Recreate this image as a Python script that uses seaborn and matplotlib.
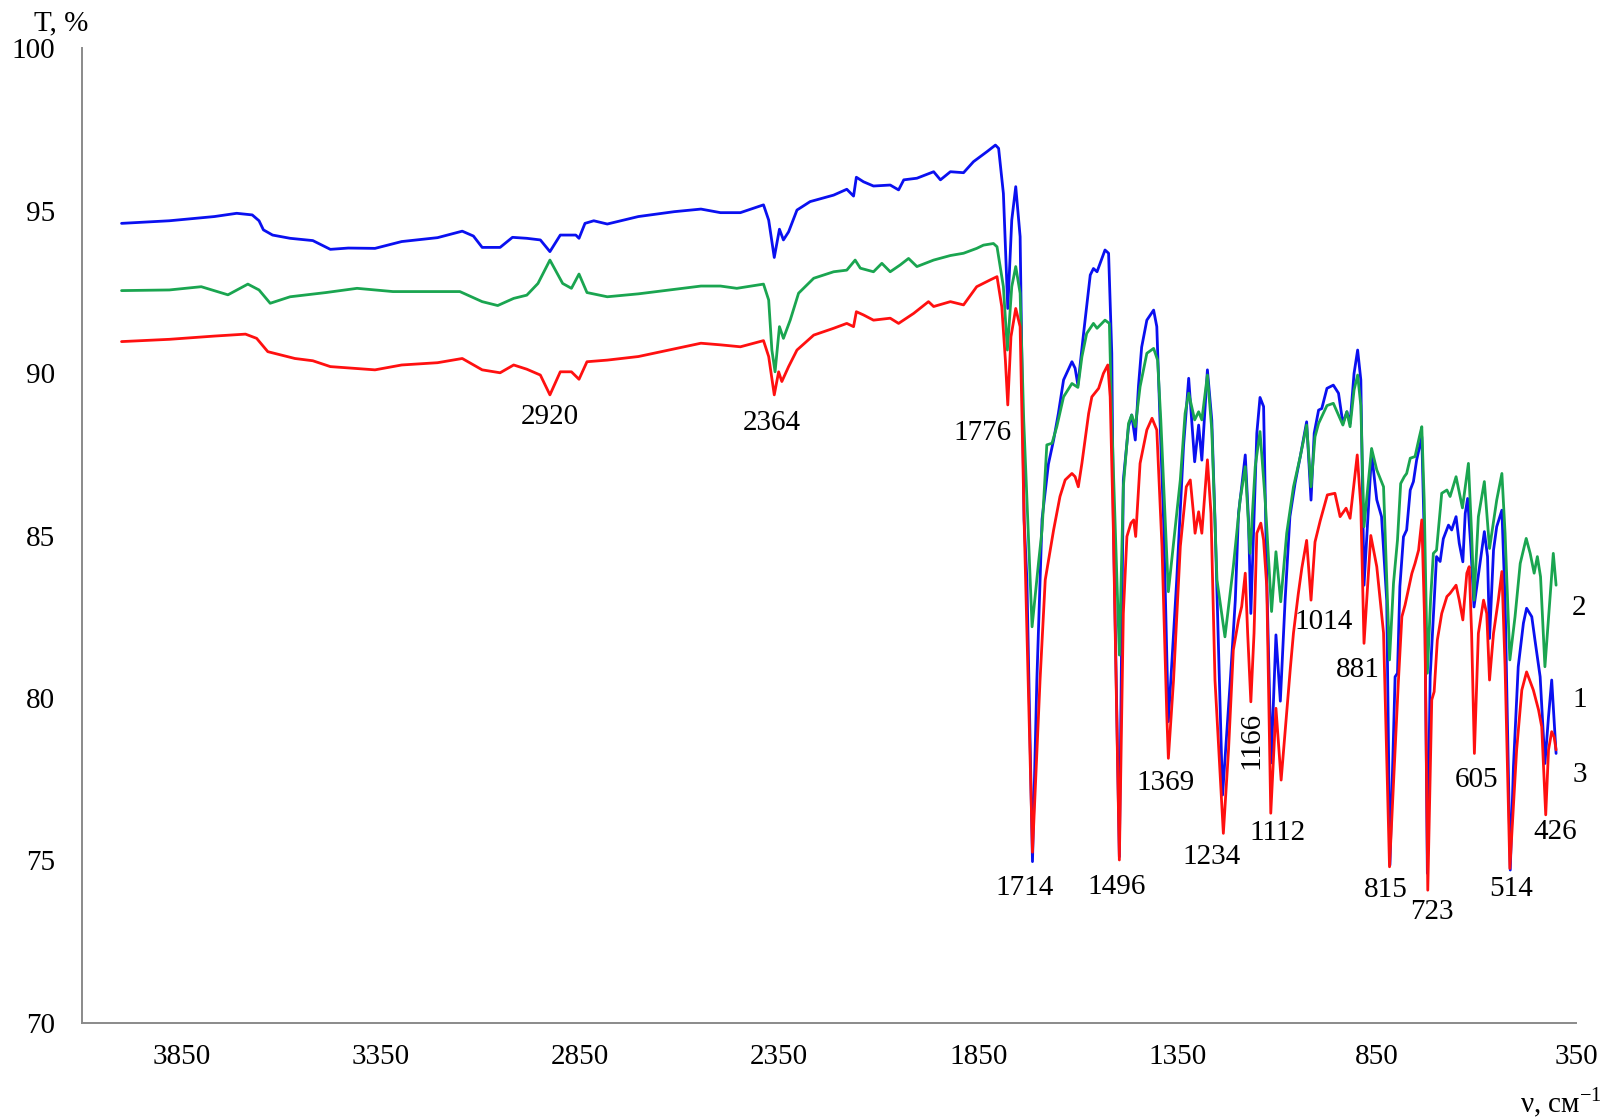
import numpy as np
import pandas as pd
import matplotlib
matplotlib.use("Agg")
import matplotlib.pyplot as plt
import seaborn as sns

# ---------------- data (wavenumber, transmittance %) ----------------
wn_1 = [4000, 3880, 3767, 3711, 3672, 3655, 3644, 3621, 3577, 3520, 3476, 3431, 3364, 3297,
        3207, 3145, 3117, 3095, 3050, 3019, 2983, 2949, 2925, 2899, 2860, 2852, 2837, 2815,
        2781, 2703, 2613, 2546, 2497, 2447, 2389, 2376, 2362, 2349, 2339, 2326, 2305, 2272,
        2213, 2180, 2163, 2156, 2138, 2113, 2071, 2050, 2037, 2004, 1962, 1945, 1920, 1887,
        1862, 1828, 1807, 1799, 1787, 1776, 1766, 1756, 1745, 1735, 1728, 1714, 1703, 1690,
        1674, 1661, 1649, 1636, 1615, 1607, 1600, 1594, 1586, 1569, 1561, 1552, 1532, 1523,
        1515, 1511, 1496, 1486, 1473, 1465, 1456, 1448, 1440, 1427, 1410, 1402, 1394, 1385,
        1373, 1352, 1335, 1322, 1307, 1297, 1289, 1275, 1264, 1256, 1237, 1218, 1205, 1197,
        1189, 1180, 1172, 1166, 1151, 1143, 1134, 1126, 1115, 1103, 1092, 1080, 1068, 1055,
        1042, 1026, 1015, 1007, 996, 988, 975, 959, 946, 935, 925, 917, 907, 898, 890, 882,
        863, 850, 838, 825, 817, 804, 798, 792, 783, 775, 766, 758, 750, 737, 731, 723, 716,
        710, 700, 691, 683, 670, 662, 651, 643, 634, 628, 622, 614, 606, 591, 580, 572, 567,
        557, 549, 536, 528, 515, 507, 495, 482, 474, 461, 453, 440, 428, 419, 411, 400]
t_1 = [94.61, 94.69, 94.82, 94.92, 94.87, 94.69, 94.41, 94.25, 94.15, 94.08, 93.81, 93.85, 93.84, 94.05,
       94.17, 94.37, 94.22, 93.87, 93.87, 94.18, 94.15, 94.10, 93.74, 94.25, 94.25, 94.15, 94.61, 94.69,
       94.59, 94.82, 94.97, 95.05, 94.94, 94.94, 95.18, 94.71, 93.56, 94.43, 94.10, 94.35, 95.02, 95.28,
       95.48, 95.66, 95.45, 96.03, 95.89, 95.76, 95.79, 95.64, 95.95, 96.00, 96.20, 95.95, 96.20, 96.17,
       96.51, 96.82, 97.02, 96.92, 95.53, 91.99, 94.71, 95.74, 94.20, 85.48, 83.63, 74.96, 80.55, 85.50,
       87.20, 87.94, 88.76, 89.79, 90.35, 90.15, 89.63, 90.30, 91.20, 93.02, 93.22, 93.12, 93.79, 93.69,
       90.61, 85.48, 75.11, 86.71, 88.35, 88.71, 87.94, 89.60, 90.80, 91.63, 91.94, 91.43, 88.55, 85.48,
       79.27, 83.63, 87.74, 89.84, 87.27, 88.40, 87.32, 90.10, 88.55, 85.48, 77.01, 80.45, 83.01, 85.68,
       86.50, 87.48, 85.50, 82.60, 88.15, 89.25, 88.97, 83.63, 78.00, 81.94, 79.90, 83.01, 85.58, 86.61,
       87.43, 88.50, 86.09, 88.15, 88.86, 88.91, 89.53, 89.63, 89.38, 88.45, 88.81, 88.45, 89.99, 90.71, 89.79, 83.47,
       87.53, 86.10, 85.58, 83.00, 74.85, 80.65, 80.76, 83.43, 84.96, 85.17, 86.40, 86.66, 87.32, 88.04, 85.07, 74.60, 80.65,
       82.00, 84.35, 84.20, 84.90, 85.32, 85.17, 85.58, 84.76, 84.19, 85.68, 86.14, 84.66, 82.80, 84.14, 85.12, 84.35, 81.83,
       84.55, 85.27, 85.78, 83.01, 74.70, 77.88, 80.96, 82.30, 82.76, 82.50, 81.78, 80.65, 77.98, 79.42, 80.55, 78.29]

wn_2 = [4000, 3880, 3800, 3733, 3683, 3655, 3627, 3577, 3487, 3409, 3319, 3151, 3095, 3056,
        3016, 2983, 2955, 2925, 2893, 2871, 2852, 2832, 2781, 2703, 2546, 2497, 2456, 2389,
        2376, 2368, 2360, 2349, 2339, 2322, 2301, 2263, 2213, 2180, 2159, 2146, 2113, 2092,
        2071, 2046, 2025, 2004, 1962, 1920, 1887, 1854, 1837, 1812, 1803, 1787, 1777, 1766,
        1756, 1745, 1736, 1715, 1699, 1690, 1678, 1665, 1653, 1636, 1615, 1600, 1590, 1578,
        1561, 1552, 1532, 1521, 1515, 1496, 1486, 1473, 1465, 1456, 1444, 1427, 1410, 1400,
        1392, 1373, 1343, 1331, 1322, 1307, 1297, 1289, 1275, 1264, 1251, 1231, 1210, 1193,
        1180, 1168, 1155, 1143, 1130, 1114, 1103, 1091, 1076, 1059, 1042, 1026, 1015, 1005,
        996, 975, 959, 935, 925, 917, 907, 898, 890, 882, 863, 850, 833, 818, 808, 798, 790,
        781, 775, 766, 754, 743, 737, 731, 723, 715, 708, 700, 687, 674, 666, 651, 635, 620,
        612, 606, 595, 580, 567, 549, 536, 528, 516, 503, 490, 475, 465, 455, 447, 439, 428,
        407, 400]
t_2 = [92.54, 92.56, 92.66, 92.41, 92.74, 92.56, 92.15, 92.35, 92.48, 92.61, 92.51, 92.51, 92.20, 92.08,
       92.30, 92.40, 92.76, 93.48, 92.76, 92.61, 93.05, 92.48, 92.35, 92.44, 92.68, 92.68, 92.61, 92.74,
       92.25, 90.71, 90.04, 91.43, 91.07, 91.63, 92.46, 92.92, 93.12, 93.17, 93.48, 93.23, 93.12, 93.38,
       93.12, 93.33, 93.53, 93.28, 93.48, 93.62, 93.69, 93.84, 93.94, 93.99, 93.89, 92.66, 90.71, 92.66,
       93.28, 92.46, 88.56, 82.19, 84.14, 85.17, 87.79, 87.84, 88.35, 89.27, 89.68, 89.56, 90.50, 91.22,
       91.53, 91.38, 91.63, 91.53, 88.56, 81.32, 86.50, 88.45, 88.71, 88.35, 89.58, 90.61, 90.76, 90.40,
       88.56, 83.27, 86.71, 88.76, 89.38, 88.56, 88.81, 88.56, 89.94, 88.25, 83.63, 81.88, 84.04, 86.09,
       87.12, 84.45, 87.12, 88.20, 86.09, 82.66, 84.50, 82.96, 85.07, 86.50, 87.43, 88.40, 86.50, 88.04,
       88.45, 89.00, 89.07, 88.40, 88.81, 88.35, 89.48, 89.94, 89.00, 85.27, 87.68, 87.02, 86.50, 81.17, 83.53, 84.86, 86.60,
       86.81, 86.91, 87.38, 87.43, 88.04, 88.35, 86.09, 80.76, 83.01, 84.45, 84.55, 86.30, 86.40, 86.20, 86.81, 85.85, 87.22,
       85.07, 83.01, 85.58, 86.66, 84.60, 86.09, 86.91, 85.07, 81.17, 82.50, 84.14, 84.91, 84.45, 83.84, 84.35, 83.73, 80.96,
       84.45, 83.47]

wn_3 = [4000, 3880, 3767, 3689, 3661, 3633, 3565, 3520, 3476, 3364, 3297, 3207, 3145, 3095,
        3050, 3016, 2983, 2949, 2925, 2899, 2871, 2852, 2832, 2781, 2703, 2546, 2497, 2447,
        2389, 2376, 2362, 2351, 2343, 2326, 2305, 2263, 2213, 2180, 2163, 2156, 2138, 2113,
        2071, 2050, 2012, 1975, 1962, 1920, 1887, 1854, 1820, 1803, 1791, 1782, 1776, 1768,
        1756, 1745, 1735, 1714, 1695, 1682, 1661, 1645, 1632, 1615, 1607, 1599, 1590, 1573,
        1565, 1548, 1536, 1525, 1519, 1511, 1496, 1486, 1477, 1467, 1460, 1455, 1444, 1427,
        1414, 1402, 1389, 1377, 1373, 1360, 1343, 1328, 1318, 1310, 1306, 1297, 1289, 1275,
        1266, 1256, 1235, 1222, 1210, 1197, 1189, 1180, 1174, 1166, 1158, 1151, 1141, 1134,
        1126, 1116, 1103, 1090, 1067, 1059, 1047, 1038, 1026, 1015, 1005, 992, 974, 955, 942,
        927, 917, 899, 890, 882, 865, 850, 833, 818, 804, 796, 787, 779, 771, 762, 754, 745,
        737, 729, 722, 712, 706, 698, 687, 674, 666, 651, 643, 634, 624, 618, 612, 605, 595,
        582, 574, 567, 557, 545, 536, 528, 516, 499, 486, 474, 457, 444, 436, 426, 419, 411,
        405, 400]
t_3 = [90.97, 91.04, 91.14, 91.20, 91.07, 90.66, 90.45, 90.38, 90.20, 90.10, 90.25, 90.32, 90.45, 90.10,
       90.01, 90.25, 90.12, 89.94, 89.33, 90.04, 90.04, 89.81, 90.35, 90.40, 90.51, 90.92, 90.87, 90.81,
       91.00, 90.51, 89.33, 90.04, 89.74, 90.20, 90.71, 91.17, 91.38, 91.53, 91.43, 91.89, 91.79, 91.63,
       91.69, 91.53, 91.84, 92.20, 92.05, 92.20, 92.10, 92.66, 92.87, 92.97, 92.04, 90.40, 89.02, 91.12,
       91.99, 91.43, 85.48, 75.25, 80.55, 83.63, 85.17, 86.20, 86.71, 86.91, 86.81, 86.50, 87.22, 88.76,
       89.27, 89.53, 89.99, 90.25, 89.27, 85.17, 75.01, 82.60, 84.97, 85.38, 85.48, 84.97, 87.22, 88.25,
       88.61, 88.25, 84.66, 79.50, 78.14, 80.55, 84.66, 86.50, 86.71, 85.68, 85.07, 85.73, 85.07, 87.33,
       85.68, 80.55, 75.83, 78.40, 81.47, 82.40, 82.81, 83.84, 81.99, 79.88, 81.99, 85.07, 85.38, 84.86,
       83.42, 76.45, 79.68, 77.47, 80.90, 82.00, 83.20, 84.00, 84.85, 83.01, 84.80, 85.45, 86.25, 86.30, 85.58,
       85.84, 85.53, 87.48, 85.90, 81.68, 85.00, 84.04, 82.00, 74.80, 78.40, 80.45, 82.50, 82.86, 83.32, 83.83, 84.14, 84.55,
       85.48, 81.99, 74.08, 79.94, 80.19, 81.78, 82.60, 83.12, 83.22, 83.47, 83.01, 82.40, 83.84, 84.04, 81.99, 78.29, 81.99,
       83.01, 82.60, 80.55, 81.99, 83.01, 83.89, 80.96, 74.75, 78.40, 80.24, 80.80, 80.24, 79.63, 79.11, 76.40, 78.40, 78.96,
       78.80, 78.40]

peak_labels = ["2920", "2364", "1776", "1714", "1496", "1369", "1234", "1166", "1112",
               "1014", "881", "815", "723", "605", "514", "426"]
peak_label_x = [2925, 2368, 1839, 1734, 1504, 1381, 1264, 1164, 1099, 984, 898, 827, 712, 599, 514, 403]
peak_label_y = [88.66, 88.45, 88.17, 74.14, 74.19, 77.37, 75.11, 78.70, 75.83, 82.33, 80.86, 74.08, 73.40, 77.47, 74.12, 75.87]

series_names = ["1", "2", "3"]
series_label_x = [341.7, 341.7, 341.7]
series_label_y = [79.93, 82.76, 77.63]

x_ticks = [3850, 3350, 2850, 2350, 1850, 1350, 850, 350]
y_ticks = [70, 75, 80, 85, 90, 95, 100]

# ---------------- style ----------------
sns.set_theme(style="white")
plt.rcParams["font.family"] = ["Liberation Serif", "DejaVu Serif"]
plt.rcParams["mathtext.fontset"] = "custom"
plt.rcParams["mathtext.rm"] = "Liberation Serif"
plt.rcParams["text.color"] = "black"

BLUE = "#0a10f0"
GREEN = "#1aa550"
RED = "#ff1010"
GRAY = "#8a8a8a"
FS = 21

df = pd.concat([
    pd.DataFrame({"wn": wn_1, "T": t_1, "s": "1"}),
    pd.DataFrame({"wn": wn_2, "T": t_2, "s": "2"}),
    pd.DataFrame({"wn": wn_3, "T": t_3, "s": "3"}),
], ignore_index=True)

fig = plt.figure(figsize=(16.03, 11.17), dpi=100)
ax = fig.add_axes([0.05097, 0.08442, 0.93219, 0.87234])

for name, col in [("1", BLUE), ("2", GREEN), ("3", RED)]:
    sns.lineplot(data=df[df["s"] == name], x="wn", y="T", color=col, linewidth=2.0,
                 errorbar=None, ax=ax, legend=False)

ax.set_xlim(4100, 350)
ax.set_ylim(70, 100)
ax.set_xticks(x_ticks)
ax.set_yticks(y_ticks)
ax.set_xlabel("")
ax.set_ylabel("")
for side in ["top", "right"]:
    ax.spines[side].set_visible(False)
for side in ["left", "bottom"]:
    ax.spines[side].set_color(GRAY)
    ax.spines[side].set_linewidth(1.4)
ax.tick_params(axis="both", direction="in", length=6, width=1.3, color=GRAY,
               labelsize=FS, labelcolor="black")
ax.tick_params(axis="y", pad=19)
ax.tick_params(axis="x", pad=15)
ax.grid(False)

for lab, x, y in zip(peak_labels, peak_label_x, peak_label_y):
    rot = 90 if lab == "1166" else 0
    ax.text(x, y, lab, ha="center", va="center", fontsize=FS, rotation=rot,
            color="black", clip_on=False)

for lab, x, y in zip(series_names, series_label_x, series_label_y):
    ax.text(x, y, lab, ha="center", va="center", fontsize=FS, color="black", clip_on=False)

fig.text(0.0384, 0.979, "T, %", ha="center", va="center", fontsize=FS, color="black")
fig.text(0.974, 0.0125, "ν, см$^{\\mathregular{-1}}$", ha="center", va="center",
         fontsize=FS, color="black")

fig.savefig("out.png", dpi=100, facecolor="white")
